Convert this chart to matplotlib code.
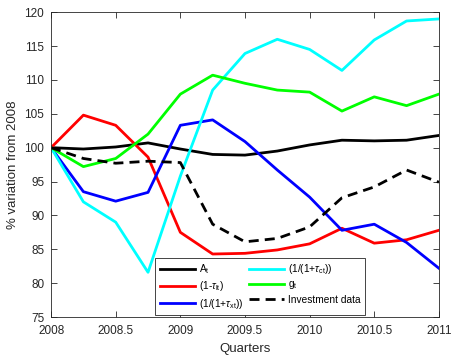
import numpy as np
import matplotlib
matplotlib.use('Agg')
import matplotlib.pyplot as plt

plt.rcParams['font.family'] = ['Liberation Sans', 'DejaVu Sans']
plt.rcParams['mathtext.fontset'] = 'custom'
plt.rcParams['mathtext.rm'] = 'Liberation Sans'
plt.rcParams['mathtext.it'] = 'Liberation Sans:italic'

# quarterly series, indexed to 2008 = 100
quarters = [2008, 2008.25, 2008.5, 2008.75, 2009, 2009.25, 2009.5,
            2009.75, 2010, 2010.25, 2010.5, 2010.75, 2011]
A_t = [100, 99.8, 100.1, 100.7, 99.8, 99.0, 98.9, 99.5, 100.4, 101.1, 101.0, 101.1, 101.8]
one_minus_tau_l = [100, 104.8, 103.3, 98.6, 87.5, 84.3, 84.4, 84.9, 85.8, 88.1, 85.9, 86.4, 87.8]
inv_tau_x = [100, 93.5, 92.1, 93.4, 103.3, 104.1, 100.9, 96.7, 92.7, 87.8, 88.7, 86.0, 82.2]
inv_tau_c = [100, 92.0, 89.0, 81.6, 95.8, 108.5, 113.9, 116.0, 114.5, 111.4, 115.9, 118.7, 119.0]
g_t = [100, 97.2, 98.4, 102.0, 107.9, 110.7, 109.5, 108.5, 108.2, 105.4, 107.5, 106.2, 107.9]
invest_data = [100, 98.4, 97.7, 98.0, 97.8, 88.7, 86.1, 86.6, 88.3, 92.6, 94.2, 96.7, 94.9]

x_ticks = [2008, 2008.5, 2009, 2009.5, 2010, 2010.5, 2011]
x_ticklabels = ['2008', '2008.5', '2009', '2009.5', '2010', '2010.5', '2011']
y_ticks = np.arange(75, 121, 5)

fig = plt.figure(figsize=(4.52, 3.58), dpi=100)
ax = fig.add_axes([0.113, 0.1145, 0.858, 0.8515])

lw = 2.0
h1, = ax.plot(quarters, A_t, color='k', lw=lw, label=r'A$_\mathregular{t}$')
h2, = ax.plot(quarters, one_minus_tau_l, color='#ff0000', lw=lw, label=r'(1-$\tau_\mathregular{lt}$)')
h3, = ax.plot(quarters, inv_tau_x, color='#0000ff', lw=lw, label=r'(1/(1+$\tau_\mathregular{xt}$))')
h4, = ax.plot(quarters, inv_tau_c, color='#00ffff', lw=lw, label=r'(1/(1+$\tau_\mathregular{ct}$))')
h5, = ax.plot(quarters, g_t, color='#00ff00', lw=lw, label=r'g$_\mathregular{t}$')
h6, = ax.plot(quarters, invest_data, color='k', lw=lw, dashes=(3.6, 2.2), label='Investment data')

ax.set_xlim(2008, 2011)
ax.set_ylim(75, 120)
ax.set_xticks(x_ticks)
ax.set_xticklabels(x_ticklabels)
ax.set_yticks(y_ticks)
ax.tick_params(direction='in', top=True, right=True, labelsize=8.5, length=4,
               width=0.6, colors='#262626')
ax.tick_params(axis='x', pad=6)
ax.tick_params(axis='y', pad=5)
for s in ax.spines.values():
    s.set_color('#262626')
    s.set_linewidth(0.6)

ax.set_xlabel('Quarters', fontsize=9.5, color='#262626', labelpad=4)
ax.set_ylabel('% variation from 2008', fontsize=9.5, color='#262626', labelpad=4)

leg = ax.legend(handles=[h1, h2, h3, h4, h5, h6], ncol=2, loc='lower left',
                bbox_to_anchor=(0.268, 0.006), fontsize=7.3, handlelength=3.5,
                columnspacing=0.5, handletextpad=0.4, labelspacing=0.33,
                fancybox=False, framealpha=1, borderpad=0.45, borderaxespad=0)
leg.get_frame().set_edgecolor('#262626')
leg.get_frame().set_linewidth(0.6)

fig.savefig('out.png', dpi=100)
